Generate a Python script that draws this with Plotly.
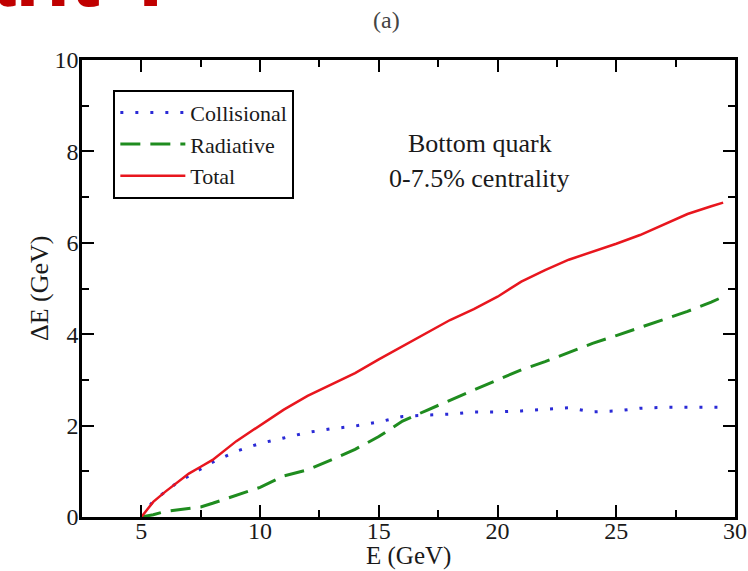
import plotly.graph_objects as go

# Energy of the heavy quark (GeV)
energy = [5, 5.5, 6, 6.5, 7, 7.5, 8, 9, 10, 11, 12, 13, 14, 15, 16, 17, 18, 19,
          20, 21, 22, 23, 24, 25, 26, 27, 28, 29, 29.5]

# Energy loss components (GeV)
collisional = [0, 0.35, 0.55, 0.75, 0.9, 1.05, 1.2, 1.44, 1.61, 1.73, 1.85, 1.93,
               1.99, 2.08, 2.2, 2.23, 2.25, 2.3, 2.3, 2.32, 2.35, 2.39, 2.3, 2.32,
               2.38, 2.4, 2.4, 2.4, 2.4]
radiative = [0, 0.05, 0.12, 0.15, 0.18, 0.22, 0.3, 0.47, 0.65, 0.9, 1.03, 1.25,
             1.48, 1.76, 2.1, 2.33, 2.56, 2.78, 3.0, 3.22, 3.4, 3.6, 3.8, 3.97,
             4.15, 4.32, 4.5, 4.7, 4.82]
total = [0, 0.33, 0.55, 0.75, 0.95, 1.1, 1.25, 1.66, 2.0, 2.35, 2.65, 2.9, 3.15,
         3.45, 3.74, 4.03, 4.31, 4.55, 4.82, 5.15, 5.4, 5.63, 5.8, 5.98, 6.17,
         6.4, 6.63, 6.8, 6.88]

x_ticks = [5, 10, 15, 20, 25, 30]
y_ticks = [0, 2, 4, 6, 8, 10]

SERIF = "Liberation Serif"
TEXT = "#1a1a1a"

fig = go.Figure()
fig.add_trace(go.Scatter(x=energy, y=collisional, mode="lines", name="Collisional",
                         line=dict(color="#2a2ad6", width=3, dash="3px,12px")))
fig.add_trace(go.Scatter(x=energy, y=radiative, mode="lines", name="Radiative",
                         line=dict(color="#1f8c1f", width=3, dash="20px,10px")))
fig.add_trace(go.Scatter(x=energy, y=total, mode="lines", name="Total",
                         line=dict(color="#e8161e", width=2.5)))

axis_common = dict(
    showline=True, linecolor="black", linewidth=2.5, mirror="ticks",
    ticks="inside", ticklen=12, tickwidth=2, tickcolor="black",
    showgrid=False, zeroline=False, automargin=False,
    tickfont=dict(family=SERIF, size=24, color=TEXT),
)

fig.update_xaxes(
    range=[2.5, 30], tickvals=x_ticks, ticklabelstandoff=-10,
    minor=dict(dtick=2.5, tick0=0, ticks="inside", ticklen=7, tickwidth=2,
               tickcolor="black", showgrid=False),
    **axis_common,
)
fig.update_yaxes(
    range=[0, 10], tickvals=y_ticks, ticklabelstandoff=-4,
    minor=dict(dtick=1, tick0=0, ticks="inside", ticklen=7, tickwidth=2,
               tickcolor="black", showgrid=False),
    **axis_common,
)

# axis titles placed close to the tick labels
fig.add_annotation(text="E (GeV)", x=0.5, y=-0.086, xref="paper", yref="paper",
                   showarrow=False, xanchor="center", yanchor="middle",
                   font=dict(family=SERIF, size=25, color=TEXT))
fig.add_annotation(text="ΔE (GeV)", x=-0.065, y=0.5, xref="paper", yref="paper",
                   textangle=-90, showarrow=False, xanchor="center", yanchor="middle",
                   font=dict(family=SERIF, size=26, color=TEXT))

fig.add_annotation(text="Bottom quark", x=0.609, y=0.853, xref="paper", yref="paper",
                   showarrow=False, font=dict(family=SERIF, size=26, color=TEXT))
fig.add_annotation(text="0-7.5% centrality", x=0.609, y=0.777, xref="paper", yref="paper",
                   showarrow=False, font=dict(family=SERIF, size=26, color=TEXT))
fig.add_annotation(text="(a)", x=0.466, y=1.0875, xref="paper", yref="paper",
                   yanchor="middle", showarrow=False,
                   font=dict(family=SERIF, size=24, color="#444444"))
fig.add_annotation(text="<b>ant ?</b>", x=0.153, y=1.072, xref="paper", yref="paper",
                   xanchor="right", yanchor="bottom", showarrow=False,
                   font=dict(family="Liberation Sans", size=90, color="#c00000"))

fig.update_layout(
    width=748, height=571,
    margin=dict(l=82, r=13, t=60, b=54),
    paper_bgcolor="white", plot_bgcolor="white",
    showlegend=True,
    legend=dict(x=0.048, y=0.935, xanchor="left", yanchor="top",
                bordercolor="black", borderwidth=2, bgcolor="white",
                font=dict(family=SERIF, size=22, color=TEXT),
                tracegroupgap=0, itemwidth=65),
)

fig.write_html("out.html")
